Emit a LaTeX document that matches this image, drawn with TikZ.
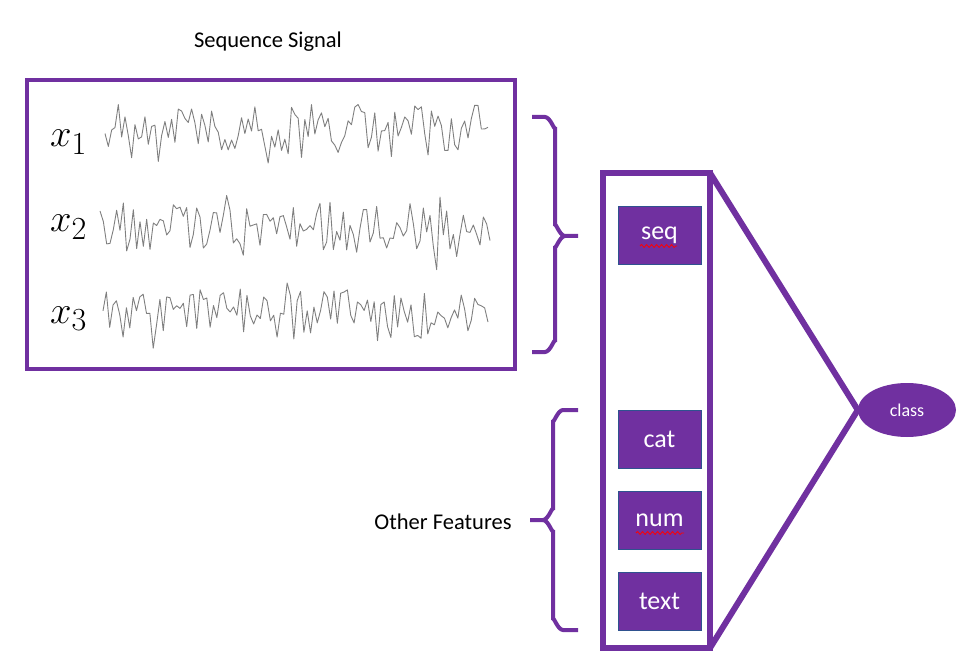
\documentclass[tikz,border=0pt]{standalone}
\usepackage{fontspec}
\setmainfont{Carlito}
\usetikzlibrary{shapes.geometric,decorations.pathmorphing}
\definecolor{opurple}{HTML}{7030A0}
\definecolor{boxedge}{HTML}{2F528F}
\definecolor{sigcol}{HTML}{7F7F7F}
\newcommand{\bigvar}[1]{\scalebox{1.55}{\Huge$#1$}}
\begin{document}
\begin{tikzpicture}[x=1pt,y=-1pt,
  frame/.style={draw=opurple,line width=4pt,inner sep=0pt,outer sep=0pt},
  panel/.style={draw=opurple,line width=6pt,inner sep=0pt,outer sep=0pt},
  bracecurve/.style={draw=opurple,line width=4pt},
  featbox/.style={fill=opurple,draw=boxedge,line width=0.8pt,minimum width=83pt,minimum height=58pt,inner sep=0pt,text=white,font=\fontsize{26}{30}\selectfont},
  clsnode/.style={ellipse,fill=opurple,minimum width=98pt,minimum height=54pt,inner sep=0pt,text=white,font=\fontsize{18}{20}\selectfont},
  label/.style={inner sep=0pt,font=\fontsize{22.5}{26}\selectfont},
  varlab/.style={inner sep=0pt,anchor=base west},
  sig/.style={draw=sigcol,line width=0.9pt,line join=round},
  link/.style={draw=opurple,line width=6pt},
  squig/.style={draw=red,line width=0.8pt,decorate,decoration={snake,amplitude=1.5pt,segment length=5pt}}]
\useasboundingbox (0,0) rectangle (974,668);

% title
\node[label] (title) at (268,42) {Sequence Signal};

% signal box
\node[frame,minimum width=488pt,minimum height=288pt] (sigbox) at (270.5,224.5) {};
\node[varlab] (x1) at (50,146.7) {\bigvar{x_1}};
\node[varlab] (x2) at (50,231.7) {\bigvar{x_2}};
\node[varlab] (x3) at (50,323) {\bigvar{x_3}};

\pgfmathsetseed{11}
\draw[sig] plot[domain=105:488,samples=116] (\x,{130+25*rand+32*rand*rand*rand});
\pgfmathsetseed{23}
\draw[sig] plot[domain=100:490,samples=118] (\x,{230+23*rand+34*rand*rand*rand});
\pgfmathsetseed{37}
\draw[sig] plot[domain=103:488,samples=116] (\x,{314+25*rand+32*rand*rand*rand});

% upper brace
\draw[bracecurve] (532,117) -- (545,117) to[out=0,in=-90] (555,127) -- (555,226)
  to[out=90,in=180] (565,236) -- (578,236);
\draw[bracecurve] (565,236) to[out=180,in=-90] (555,246) -- (555,342)
  to[out=90,in=0] (545,352) -- (532,352);

% lower brace
\draw[bracecurve] (578,410) -- (563,410) to[out=180,in=-90] (553,420) -- (553,510)
  to[out=90,in=0] (543,520) -- (530,520);
\draw[bracecurve] (543,520) to[out=0,in=-90] (553,530) -- (553,620)
  to[out=90,in=180] (563,630) -- (578,630);
\node[label] (other) at (443,522) {Other Features};

% feature panel
\node[panel,minimum width=107pt,minimum height=475pt] (panel) at (656.5,410.5) {};
\node[featbox] (seq) at (659.5,235) {seq};
\node[featbox] (cat) at (659.5,439.5) {cat};
\node[featbox] (num) at (659.5,520.5) {num};
\node[featbox] (txt) at (659.5,601) {text};
\draw[squig] (640,246) -- (677,246);
\draw[squig] (636,533) -- (684,533);

% class
\node[clsnode] (cls) at (907,410) {class};
\draw[link] (panel.north east) -- (cls.west);
\draw[link] (panel.south east) -- (cls.west);
\end{tikzpicture}
\end{document}
